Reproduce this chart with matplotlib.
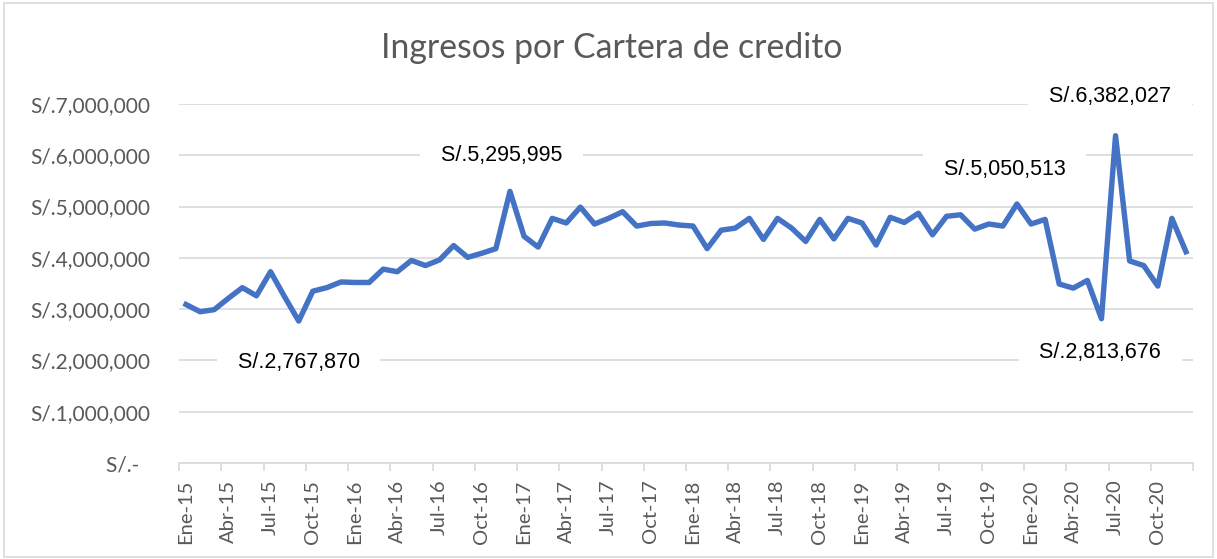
import numpy as np
import matplotlib
matplotlib.use("Agg")
import matplotlib.pyplot as plt
from matplotlib.patches import Rectangle

# monthly income, Ene-15 .. Dic-20
meses = ["Ene", "Feb", "Mar", "Abr", "May", "Jun",
         "Jul", "Ago", "Set", "Oct", "Nov", "Dic"]
anios = ["15", "16", "17", "18", "19", "20"]
categorias = [m + "-" + a for a in anios for m in meses]

ingresos_2015 = [3090000, 2950000, 2990000, 3210000, 3420000, 3260000,
                 3730000, 3240000, 2767870, 3350000, 3420000, 3530000]
ingresos_2016 = [3520000, 3520000, 3780000, 3730000, 3950000, 3850000,
                 3960000, 4240000, 4010000, 4090000, 4180000, 5295995]
ingresos_2017 = [4420000, 4210000, 4770000, 4680000, 4990000, 4660000,
                 4770000, 4900000, 4620000, 4670000, 4680000, 4640000]
ingresos_2018 = [4620000, 4180000, 4540000, 4580000, 4770000, 4360000,
                 4770000, 4580000, 4320000, 4750000, 4370000, 4770000]
ingresos_2019 = [4680000, 4250000, 4790000, 4690000, 4870000, 4450000,
                 4810000, 4840000, 4560000, 4660000, 4620000, 5050513]
ingresos_2020 = [4660000, 4750000, 3490000, 3410000, 3560000, 2813676,
                 6382027, 3940000, 3850000, 3450000, 4770000, 4120000]
ingresos = np.array(ingresos_2015 + ingresos_2016 + ingresos_2017 +
                    ingresos_2018 + ingresos_2019 + ingresos_2020)

# labelled points: (index, offset in points)
etiquetas = {8: (0, -29.5), 23: (-6, 26), 59: (-9, 25), 66: (-4, 28), 65: (-1, -24.5)}

gris = "#595959"
fig = plt.figure(figsize=(12.17, 5.59), dpi=100)
ax = fig.add_axes([179/1217, 96/559, (1193-179)/1217, (463-104)/559])

x = np.arange(len(ingresos))
ax.plot(x, ingresos, color="#4472C4", lw=3.9, solid_joinstyle="round", zorder=3)

ax.set_xlim(-0.5, len(ingresos) - 0.5)
ax.set_ylim(0, 7000000)
ax.set_yticks(np.arange(0, 7000001, 1000000))
ax.set_yticklabels(["S/.-  "] + ["S/.{:,.0f}".format(v) for v in np.arange(1000000, 7000001, 1000000)],
                   family="Lato", fontsize=15, color=gris)
ax.yaxis.grid(True, color="#d9d9d9", lw=1.2, zorder=0)
ax.tick_params(axis="y", length=0, pad=21)

ax.set_xticks(x[::3])
ax.set_xticklabels(categorias[::3], rotation=90, family="Lato", fontsize=14.5, color=gris)
ax.set_xticks(np.arange(-0.5, len(ingresos), 3), minor=True)
ax.tick_params(axis="x", which="major", length=0, pad=12)
ax.tick_params(axis="x", which="minor", length=6, width=1.2, color="#d9d9d9")

for s in ["top", "right", "left"]:
    ax.spines[s].set_visible(False)
ax.spines["bottom"].set_color("#d9d9d9")
ax.spines["bottom"].set_linewidth(1.2)

for i, (dx, dy) in etiquetas.items():
    ax.annotate("  S/.{:,.0f}  ".format(ingresos[i]), (x[i], ingresos[i]),
                xytext=(dx, dy), textcoords="offset points",
                ha="center", va="center", family="Liberation Sans", fontsize=15.5,
                color="black", zorder=4,
                bbox=dict(boxstyle="square,pad=0.4", fc="white", ec="none"))

fig.text(612/1217, (559-58)/559, "Ingresos por Cartera de credito", ha="center", va="baseline",
         family="Lato", fontsize=24.3, color=gris)

fig.patches.append(Rectangle((0.003, 0.004), 0.994, 0.99, transform=fig.transFigure,
                             fill=False, ec="#d9d9d9", lw=1.2))

fig.savefig("out.png", dpi=100)
